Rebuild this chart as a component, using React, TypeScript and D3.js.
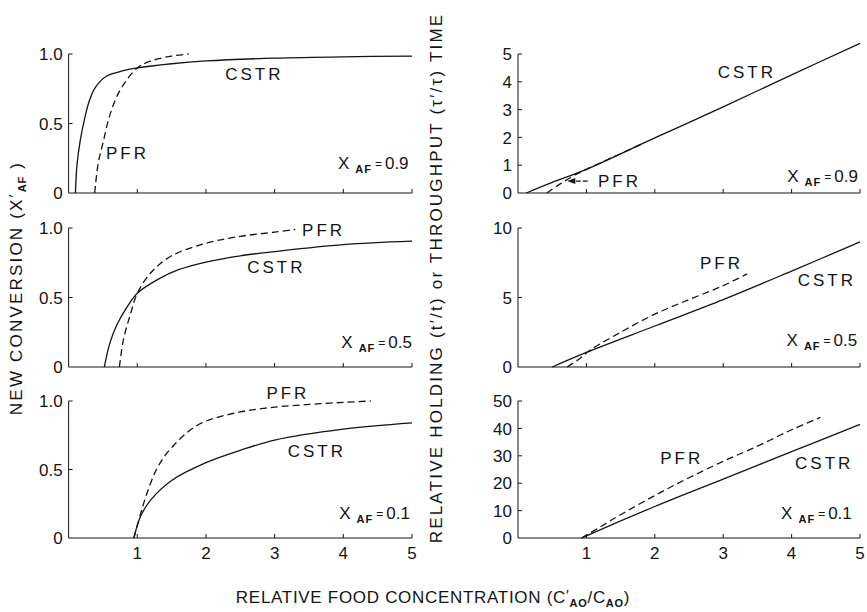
import React from 'react';
import * as d3 from 'd3';

// ---------- data ----------
const xTickValues = [1, 2, 3, 4, 5];
const xTickLabels = ['1', '2', '3', '4', '5'];

const leftYTicks = [0, 0.5, 1.0];
const leftYTickLabels = ['0', '0.5', '1.0'];
const rightYTicksTop = [0, 1, 2, 3, 4, 5];
const rightYTicksMid = [0, 5, 10];
const rightYTicksBot = [0, 10, 20, 30, 40, 50];

// New conversion, X_AF = 0.9
const conv09CSTR: [number, number][] = [[0.1, 0], [0.12, 0.19], [0.17, 0.38], [0.24, 0.55], [0.3, 0.66], [0.39, 0.76], [0.55, 0.84], [0.8, 0.88], [1, 0.9], [1.5, 0.93], [2, 0.95], [3, 0.97], [4, 0.98], [5, 0.985]];
const conv09PFR: [number, number][] = [[0.38, 0], [0.43, 0.21], [0.51, 0.38], [0.6, 0.56], [0.75, 0.74], [1, 0.9], [1.2, 0.95], [1.5, 0.985], [1.75, 1.0]];
// X_AF = 0.5
const conv05CSTR: [number, number][] = [[0.52, 0], [0.6, 0.17], [0.7, 0.3], [0.85, 0.43], [1.0, 0.53], [1.3, 0.63], [1.6, 0.7], [2, 0.755], [2.5, 0.8], [3, 0.83], [4, 0.88], [5, 0.905]];
const conv05PFR: [number, number][] = [[0.74, 0], [0.8, 0.2], [0.9, 0.38], [1.0, 0.53], [1.2, 0.68], [1.5, 0.8], [2, 0.89], [2.5, 0.94], [3, 0.97], [3.3, 0.99]];
// X_AF = 0.1
const conv01CSTR: [number, number][] = [[0.95, 0], [1.05, 0.16], [1.2, 0.28], [1.5, 0.42], [2, 0.55], [2.5, 0.64], [3, 0.715], [4, 0.795], [5, 0.84]];
const conv01PFR: [number, number][] = [[0.95, 0], [1.05, 0.18], [1.15, 0.34], [1.3, 0.52], [1.5, 0.66], [1.9, 0.83], [2.5, 0.92], [3, 0.955], [3.5, 0.975], [4, 0.99], [4.4, 1.0]];

// Relative holding / throughput time
const time09CSTR: [number, number][] = [[0.12, 0], [0.5, 0.38], [1, 0.85], [2, 1.98], [3, 3.1], [4, 4.25], [5, 5.38]];
const time09PFR: [number, number][] = [[0.42, 0], [0.6, 0.3], [0.8, 0.6], [1, 0.85], [1.4, 1.3], [1.8, 1.75]];
const time05CSTR: [number, number][] = [[0.5, 0], [1, 1.05], [2, 2.95], [3, 4.85], [4, 6.9], [5, 9.0]];
const time05PFR: [number, number][] = [[0.72, 0], [0.9, 0.6], [1.05, 1.2], [1.5, 2.5], [2, 3.8], [2.5, 4.85], [3, 5.85], [3.35, 6.7]];
const time01CSTR: [number, number][] = [[0.93, 0], [1, 0.8], [2, 11.5], [3, 21.5], [4, 31.5], [5, 41.5]];
const time01PFR: [number, number][] = [[0.93, 0], [1.2, 4], [1.5, 8.5], [2, 15.5], [2.5, 22], [3, 28], [3.5, 33.5], [4, 39.5], [4.42, 44]];

const xafLabels = ['0.9', '0.5', '0.1'];

// ---------- layout ----------
const FONT = '"Liberation Sans", Arial, sans-serif';
const INK = '#141414';

interface Panel {
  x0: number; x1: number; y0: number; yTop: number; yMax: number;
  ticks: number[]; tickLabels: string[];
  cstr: [number, number][]; pfr: [number, number][];
  xaf: string; showX: boolean;
  cstrLabel: [number, number]; pfrLabel: [number, number]; xafPos: [number, number];
  arrow?: [number, number, number];
}

const rows = [
  { y0: 193, yTop: 54 },
  { y0: 367, yTop: 228 },
  { y0: 538, yTop: 401 },
];
const leftX: [number, number] = [68.6, 412];
const rightX: [number, number] = [518, 860];

const panels: Panel[] = [
  { x0: leftX[0], x1: leftX[1], ...rows[0], yMax: 1, ticks: leftYTicks, tickLabels: leftYTickLabels, cstr: conv09CSTR, pfr: conv09PFR, xaf: xafLabels[0], showX: false, cstrLabel: [2.28, 0.86], pfrLabel: [0.545, 0.29], xafPos: [4.95, 0.215] },
  { x0: leftX[0], x1: leftX[1], ...rows[1], yMax: 1, ticks: leftYTicks, tickLabels: leftYTickLabels, cstr: conv05CSTR, pfr: conv05PFR, xaf: xafLabels[1], showX: false, cstrLabel: [2.6, 0.72], pfrLabel: [3.4, 0.99], xafPos: [5.0, 0.18] },
  { x0: leftX[0], x1: leftX[1], ...rows[2], yMax: 1, ticks: leftYTicks, tickLabels: leftYTickLabels, cstr: conv01CSTR, pfr: conv01PFR, xaf: xafLabels[2], showX: true, cstrLabel: [3.19, 0.635], pfrLabel: [2.88, 1.06], xafPos: [4.97, 0.18] },
  { x0: rightX[0], x1: rightX[1], ...rows[0], yMax: 5, ticks: rightYTicksTop, tickLabels: rightYTicksTop.map(String), cstr: time09CSTR, pfr: time09PFR, xaf: xafLabels[0], showX: false, cstrLabel: [2.92, 4.36], pfrLabel: [1.17, 0.43], xafPos: [4.97, 0.61], arrow: [1.02, 0.72, 0.43] },
  { x0: rightX[0], x1: rightX[1], ...rows[1], yMax: 10, ticks: rightYTicksMid, tickLabels: rightYTicksMid.map(String), cstr: time05CSTR, pfr: time05PFR, xaf: xafLabels[1], showX: false, cstrLabel: [4.09, 6.26], pfrLabel: [2.66, 7.48], xafPos: [4.96, 1.94] },
  { x0: rightX[0], x1: rightX[1], ...rows[2], yMax: 50, ticks: rightYTicksBot, tickLabels: rightYTicksBot.map(String), cstr: time01CSTR, pfr: time01PFR, xaf: xafLabels[2], showX: true, cstrLabel: [4.05, 27.4], pfrLabel: [2.08, 29.2], xafPos: [4.88, 9.1] },
];

function PanelView({ p }: { p: Panel }) {
  const x = d3.scaleLinear().domain([0, 5]).range([p.x0, p.x1]);
  const y = d3.scaleLinear().domain([0, p.yMax]).range([p.y0, p.yTop]);
  const line = d3.line<[number, number]>().x(d => x(d[0])).y(d => y(d[1])).curve(d3.curveCatmullRom.alpha(0.5));
  const fs = 17;
  return (
    <g>
      {/* y axis */}
      <line x1={x(0)} x2={x(0)} y1={y(0)} y2={y(p.yMax)} stroke={INK} strokeWidth={1} />
      {p.ticks.filter(t => t !== 0).map(t => (
        <line key={'yt' + t} x1={x(0)} x2={x(0) + 4} y1={y(t)} y2={y(t)} stroke={INK} strokeWidth={1} />
      ))}
      {p.ticks.map((t, i) => (
        <text key={'yl' + t} x={x(0) - 6} y={y(t)} dy="0.36em" textAnchor="end" fontSize={fs} fontFamily={FONT} fill={INK}>{p.tickLabels[i]}</text>
      ))}
      {/* x axis */}
      <line x1={x(0)} x2={x(5)} y1={y(0)} y2={y(0)} stroke={INK} strokeWidth={1} />
      {xTickValues.map(t => (
        <line key={'xt' + t} x1={x(t)} x2={x(t)} y1={y(0)} y2={y(0) - 4} stroke={INK} strokeWidth={1} />
      ))}
      {p.showX && xTickValues.map((t, i) => (
        <text key={'xl' + t} x={x(t)} y={y(0) + 15} dy="0.36em" textAnchor="middle" fontSize={fs} fontFamily={FONT} fill={INK}>{xTickLabels[i]}</text>
      ))}
      {/* curves */}
      <path d={line(p.cstr) || ''} fill="none" stroke={INK} strokeWidth={1.3} />
      <path d={line(p.pfr) || ''} fill="none" stroke={INK} strokeWidth={1.3} strokeDasharray="7,4" />
      {/* labels */}
      <text x={x(p.cstrLabel[0])} y={y(p.cstrLabel[1])} dy="0.36em" fontSize={fs} letterSpacing={3} fontFamily={FONT} fill={INK}>CSTR</text>
      <text x={x(p.pfrLabel[0])} y={y(p.pfrLabel[1])} dy="0.36em" fontSize={fs} letterSpacing={3} fontFamily={FONT} fill={INK}>PFR</text>
      {p.arrow && (
        <g>
          <line x1={x(p.arrow[0])} x2={x(p.arrow[1]) + 6} y1={y(p.arrow[2])} y2={y(p.arrow[2])} stroke={INK} strokeWidth={1.3} strokeDasharray="5,2" />
          <path d={`M${x(p.arrow[1])},${y(p.arrow[2])} l8,-3 l0,6 z`} fill={INK} />
        </g>
      )}
      <text x={x(p.xafPos[0])} y={y(p.xafPos[1])} dy="0.36em" textAnchor="end" fontSize={fs} fontFamily={FONT} fill={INK}>
        <tspan>X</tspan>
        <tspan fontSize={11} fontWeight="bold" dx={6} dy={4} letterSpacing={1}>AF</tspan>
        <tspan fontSize={12} dx={3} dy={-5}>=</tspan>
        <tspan fontSize={fs} dx={3} dy={1}>{p.xaf}</tspan>
      </text>
    </g>
  );
}

export default function App() {
  return (
    <svg width={867} height={612} viewBox="0 0 867 612" style={{ position: 'absolute', left: 0, top: 0, background: '#fff' }}>
      <rect x={0} y={0} width={867} height={612} fill="#fff" />
      {panels.map((p, i) => <PanelView key={i} p={p} />)}
      {/* left y label */}
      <text transform="translate(16,288) rotate(-90)" dy="0.36em" textAnchor="middle" fontSize={17} letterSpacing={2.2} fontFamily={FONT} fill={INK}>
        NEW CONVERSION (X<tspan fontSize={15} dy={-3}>′</tspan><tspan fontSize={11} fontWeight="bold" letterSpacing={1} dy={7}>AF</tspan><tspan dy={-4}> )</tspan>
      </text>
      {/* right y label */}
      <text transform="translate(436,278) rotate(-90)" dy="0.36em" textAnchor="middle" fontSize={17} letterSpacing={2.2} fontFamily={FONT} fill={INK}>
        RELATIVE HOLDING (t′/t) or THROUGHPUT (τ′/τ) TIME
      </text>
      {/* x label */}
      <text x={433} y={597} dy="0.36em" textAnchor="middle" fontSize={17} letterSpacing={0.7} fontFamily={FONT} fill={INK}>
        RELATIVE FOOD CONCENTRATION (C<tspan fontSize={15} dy={-3}>′</tspan><tspan fontSize={11} fontWeight="bold" dy={7}>AO</tspan><tspan dy={-4}>/C</tspan><tspan fontSize={11} fontWeight="bold" dy={4}>AO</tspan><tspan dy={-4}>)</tspan>
      </text>
    </svg>
  );
}
